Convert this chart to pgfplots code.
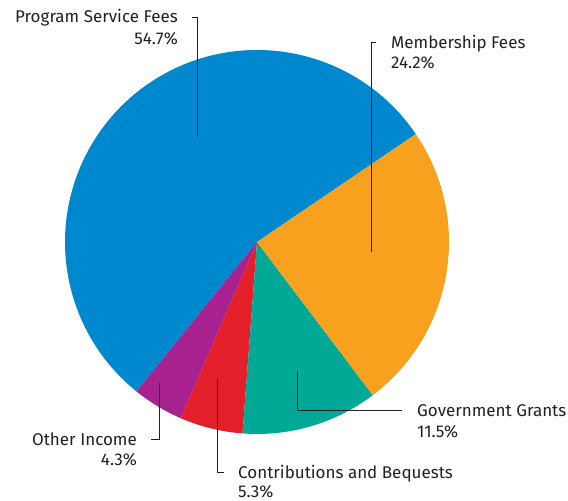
\documentclass[border=0pt]{standalone}
\usepackage{pgfplots}
\usepackage{pgfplotstable}
\pgfplotsset{compat=1.18}
\usepackage{fontspec}
\setmainfont{Fira Sans}

\definecolor{cBlue}{HTML}{0088CF}
\definecolor{cPurple}{HTML}{A7228F}
\definecolor{cRed}{HTML}{E3202A}
\definecolor{cTeal}{HTML}{00A996}
\definecolor{cOrange}{HTML}{F7A11F}
\definecolor{lead}{HTML}{231F20}

\tikzset{lbl/.style={font=\fontsize{17}{20}\selectfont, text=lead, inner sep=0pt}}

% share of income, counter-clockwise from 34.2 degrees
\pgfplotstableread{
label value color
{Program Service Fees} 54.7 cBlue
{Other Income} 4.3 cPurple
{Contributions and Bequests} 5.3 cRed
{Government Grants} 11.5 cTeal
{Membership Fees} 24.2 cOrange
}\piedata

\begin{document}
\begin{tikzpicture}
\begin{axis}[
    hide axis,
    scale only axis,
    width=568pt, height=501pt,
    xmin=0, xmax=568, ymin=0, ymax=501,
    clip=false,
]
\path (axis cs:0,0) rectangle (axis cs:568,501);
\def\angA{34.2}
\pgfplotstablegetrowsof{\piedata}
\pgfmathtruncatemacro\N{\pgfplotsretval-1}
\pgfplotsforeachungrouped \i in {0,...,\N}{
  \pgfplotstablegetelem{\i}{value}\of\piedata \let\v\pgfplotsretval
  \pgfplotstablegetelem{\i}{color}\of\piedata \let\c\pgfplotsretval
  \pgfmathsetmacro\angB{\angA+3.6*\v}
  \edef\temp{\noexpand\fill[\c] (axis cs:257,259) -- ++(\angA:192pt)
    arc[start angle=\angA, end angle=\angB, radius=192pt] -- cycle;}
  \temp
  \global\let\angA\angB
}

% leader lines
\draw[lead, line width=1pt] (axis cs:192,483) -- (axis cs:197,483) -- (axis cs:197,364);
\draw[lead, line width=1pt] (axis cs:376,458) -- (axis cs:371,458) -- (axis cs:371,249);
\draw[lead, line width=1pt] (axis cs:297,130) -- (axis cs:297,90) -- (axis cs:402,90);
\draw[lead, line width=1pt] (axis cs:217,122) -- (axis cs:217,28) -- (axis cs:224,28);
\draw[lead, line width=1pt] (axis cs:159,118) -- (axis cs:159,61) -- (axis cs:151,61);

% labels
\node[lbl, anchor=base east] at (axis cs:178,478) {Program Service Fees};
\node[lbl, anchor=base east] at (axis cs:178,456) {54.7\%};
\node[lbl, anchor=base west] at (axis cs:391,452) {Membership Fees};
\node[lbl, anchor=base west] at (axis cs:391,432) {24.2\%};
\node[lbl, anchor=base west] at (axis cs:417,84) {Government Grants};
\node[lbl, anchor=base west] at (axis cs:417,63) {11.5\%};
\node[lbl, anchor=base west] at (axis cs:238,22) {Contributions and Bequests};
\node[lbl, anchor=base west] at (axis cs:238,3) {5.3\%};
\node[lbl, anchor=base east] at (axis cs:137,55) {Other Income};
\node[lbl, anchor=base east] at (axis cs:137,35) {4.3\%};
\end{axis}
\end{tikzpicture}
\end{document}
